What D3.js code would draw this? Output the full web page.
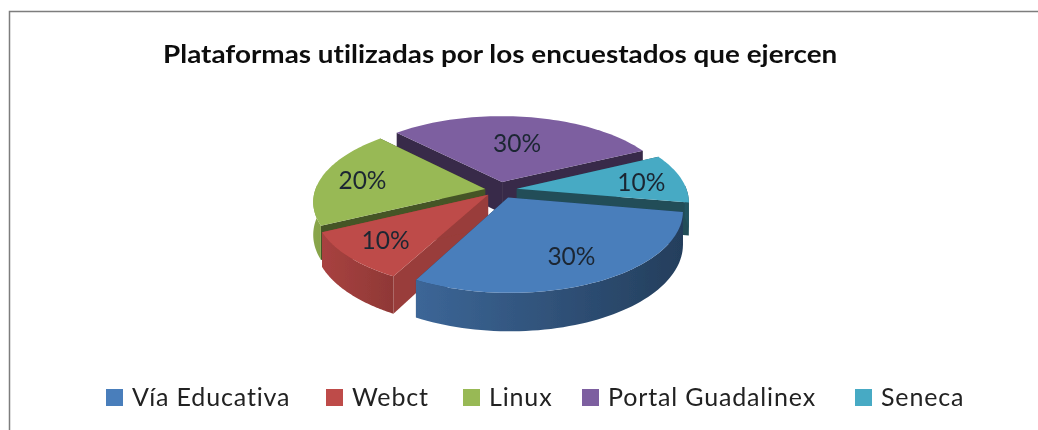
<!DOCTYPE html>
<html lang="es">
<head>
    <meta charset="UTF-8">
    <title>Plataformas utilizadas</title>
    <script src="https://d3js.org/d3.v7.min.js"></script>
    <style>
        html, body { margin: 0; padding: 0; background: #fff; }
        svg { display: block; }
        text { font-family: Lato, "Open Sans", sans-serif; font-variant-ligatures: none; }
    </style>
</head>
<body>
    <svg width="1038" height="430"></svg>
    <script>
        // datos
        const categories = ["Vía Educativa", "Webct", "Linux", "Portal Guadalinex", "Seneca"];
        const values = [30, 10, 20, 30, 10];
        const percentLabels = ["30%", "10%", "20%", "30%", "10%"];
        const colors = ["#4a7ebb", "#be4b48", "#98b954", "#7d5fa0", "#46aac4"];
        const titleText = "Plataformas utilizadas por los encuestados que ejercen";

        // geometria del pastel 3D
        const cx = 497, cy = 190;
        const R = 170, tilt = 0.46, persp = 0.0009, depth = 32;
        const explode = [18, 15, 12, 18, 20];
        const shiftX = [3, 2, 0, 2, 0]; // ajuste fino de cada porcion
        const labelDx = [11, -20, -21, -1, 22];
        const labelDy = [9, 8, -1, 3, 0];
        const wallStart = [0.6, 0.35, 0.3, 0.6, 1.4];
        const wallEnd = [2, 0.8, 0.8, 1.2, 2];
        const legendX = [106, 326, 463, 582, 855];

        const svg = d3.select("svg");
        const defs = svg.append("defs");

        // la imagen original esta algo borrosa
        defs.append("filter")
            .attr("id", "soft")
            .attr("x", "-5%").attr("y", "-5%")
            .attr("width", "110%").attr("height", "110%")
            .append("feGaussianBlur")
            .attr("stdDeviation", 0.45);

        const root = svg.append("g").attr("filter", "url(#soft)");

        // marco (solo arriba e izquierda en el recorte)
        root.append("path")
            .attr("d", "M9.5,430V11.5H1038")
            .attr("fill", "none")
            .attr("stroke", "#7d7d7d")
            .attr("stroke-width", 1.5);

        // el original esta estirado en horizontal
        root.append("text")
            .attr("transform", "translate(163,63) scale(1.115,1)")
            .attr("font-size", 25)
            .attr("font-weight", 700)
            .attr("fill", "#111")
            .text(titleText);

        // proyeccion con perspectiva: u derecha, v hacia el observador, z hacia abajo
        function project(u, v, z) {
            const s = 1 / (1 - v * persp);
            return [cx + u * s, cy + (v * tilt + z) * s];
        }

        const pie = d3.pie()
            .sort(null)
            .startAngle(100 * Math.PI / 180)
            .endAngle((100 + 360) * Math.PI / 180);

        const arcs = pie(values).map((d, i) => {
            const mid = (d.startAngle + d.endAngle) / 2;
            return {
                ...d,
                i: i,
                mid: mid,
                ox: Math.sin(mid) * explode[i] + shiftX[i],
                oy: -Math.cos(mid) * explode[i]
            };
        });

        const line = d3.line();

        function sliceAngles(d) {
            return d3.range(0, 61).map(k => d.startAngle + (d.endAngle - d.startAngle) * k / 60);
        }

        function ringPoints(d, angles, z) {
            return angles.map(a => project(d.ox + Math.sin(a) * R, d.oy - Math.cos(a) * R, z));
        }

        // de atras hacia adelante
        const order = arcs.slice().sort((a, b) => -Math.cos(a.mid) - (-Math.cos(b.mid)));
        const pieG = root.append("g");

        order.forEach(d => {
            const base = d3.color(colors[d.i]);
            const apexTop = project(d.ox, d.oy, 0);
            const apexBottom = project(d.ox, d.oy, depth);
            const angles = sliceAngles(d);
            const top = ringPoints(d, angles, 0);
            const bottom = ringPoints(d, angles, depth);
            const g = pieG.append("g");

            // paredes radiales
            [0, top.length - 1].forEach(k => {
                g.append("path")
                    .attr("d", line([apexTop, top[k], bottom[k], apexBottom]) + "Z")
                    .attr("fill", base.darker(d.i === 1 ? 0.6 : 2.2));
            });

            // pared exterior con degradado, solo la parte que mira al frente
            const front = angles.filter(a => Math.cos(a) < 0.05);
            if (front.length > 1) {
                const xs = top.map(p => p[0]);
                const gradId = "wall" + d.i;
                const grad = defs.append("linearGradient")
                    .attr("id", gradId)
                    .attr("gradientUnits", "userSpaceOnUse")
                    .attr("x1", d3.min(xs)).attr("x2", d3.max(xs))
                    .attr("y1", 0).attr("y2", 0);
                grad.append("stop").attr("offset", 0).attr("stop-color", base.darker(wallStart[d.i]));
                grad.append("stop").attr("offset", 1).attr("stop-color", base.darker(wallEnd[d.i]));
                g.append("path")
                    .attr("d", line(ringPoints(d, front, 0).concat(ringPoints(d, front, depth).reverse())) + "Z")
                    .attr("fill", "url(#" + gradId + ")");
            }

            // cara superior
            g.append("path")
                .attr("d", line([apexTop].concat(top)) + "Z")
                .attr("fill", colors[d.i]);
        });

        // etiquetas de porcentaje
        arcs.forEach(d => {
            const rl = R * 0.62;
            const p = project(d.ox + Math.sin(d.mid) * rl, d.oy - Math.cos(d.mid) * rl, 0);
            root.append("text")
                .attr("x", p[0] + labelDx[d.i])
                .attr("y", p[1] + 9 + labelDy[d.i])
                .attr("text-anchor", "middle")
                .attr("font-size", 24.5)
                .attr("fill", "#1c2733")
                .text(percentLabels[d.i]);
        });

        // leyenda
        const legend = root.append("g")
            .selectAll("g")
            .data(categories)
            .enter().append("g")
            .attr("transform", (d, i) => "translate(" + legendX[i] + ",389)");
        legend.append("rect")
            .attr("width", 17)
            .attr("height", 17)
            .attr("fill", (d, i) => colors[i]);
        legend.append("text")
            .attr("x", 26)
            .attr("y", 17)
            .attr("font-size", 25)
            .attr("letter-spacing", 0.85)
            .attr("fill", "#222")
            .text(d => d);
    </script>
</body>
</html>
